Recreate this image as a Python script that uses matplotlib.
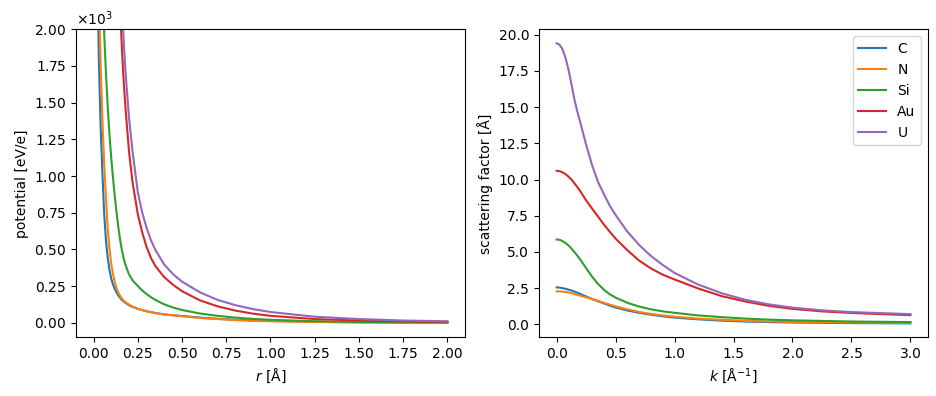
import matplotlib
matplotlib.use("Agg")
import matplotlib.pyplot as plt

symbols = ["C", "N", "Si", "Au", "U"]

# radial potential (eV/e)
r = [0.01, 0.02, 0.03, 0.04, 0.05, 0.06, 0.07, 0.08, 0.09, 0.1, 0.11, 0.12, 0.13, 0.14,
     0.15, 0.16, 0.17, 0.18, 0.2, 0.22, 0.25, 0.275, 0.3, 0.325, 0.35, 0.4, 0.45, 0.5,
     0.6, 0.7, 0.8, 0.9, 1.0, 1.25, 1.5, 1.75, 2.0]
pot_C = [5600, 2550, 1780, 1330, 1020, 740, 560, 440, 360, 300, 260, 230, 205, 185,
         170, 155, 145, 135, 120, 108, 95, 86, 78, 72, 66, 57, 51, 46,
         35, 27, 20, 15, 12, 6, 3, 2, 1]
pot_N = [6500, 3100, 2250, 1750, 1380, 1080, 850, 640, 500, 400, 330, 275, 235, 205,
         182, 165, 150, 140, 124, 110, 96, 86, 78, 71, 65, 56, 50, 44,
         33, 25, 18, 13, 10, 5, 2, 1, 0.5]
pot_Si = [15000, 6500, 4200, 3050, 2400, 1970, 1700, 1470, 1280, 1120, 985, 860, 750, 650,
          565, 495, 440, 395, 330, 290, 250, 220, 195, 173, 155, 125, 103, 87,
          63, 47, 35, 26, 20, 10, 5, 3, 2]
pot_Au = [90000, 42000, 26000, 18500, 14000, 11000, 8800, 7200, 5900, 4900, 4100, 3450, 2950, 2500,
          2150, 1870, 1650, 1470, 1170, 960, 740, 615, 515, 440, 385, 310, 258, 215,
          153, 112, 83, 62, 47, 25, 15, 9, 6]
pot_U = [110000, 52000, 32000, 22000, 16500, 13000, 10500, 8600, 7200, 6000, 5000, 4200, 3550, 3000,
         2560, 2200, 1930, 1720, 1400, 1170, 890, 750, 645, 560, 495, 395, 330, 280,
         208, 156, 120, 93, 73, 41, 25, 15, 10]

# scattering factors (Å)
k = [0.0, 0.025, 0.05, 0.075, 0.1, 0.125, 0.15, 0.175, 0.2, 0.25, 0.3, 0.35, 0.4, 0.45,
     0.5, 0.6, 0.7, 0.8, 0.9, 1.0, 1.2, 1.4, 1.6, 1.8, 2.0, 2.25, 2.5, 2.75, 3.0]
f_C = [2.55, 2.54, 2.5, 2.46, 2.4, 2.34, 2.27, 2.19, 2.1, 1.93, 1.75, 1.6, 1.45, 1.3,
       1.17, 0.96, 0.8, 0.67, 0.56, 0.47, 0.35, 0.26, 0.2, 0.16, 0.13, 0.11, 0.09, 0.08, 0.07]
f_N = [2.28, 2.275, 2.26, 2.24, 2.2, 2.16, 2.1, 2.04, 1.98, 1.87, 1.76, 1.62, 1.49, 1.37,
       1.25, 1.04, 0.86, 0.72, 0.62, 0.53, 0.4, 0.32, 0.25, 0.2, 0.17, 0.15, 0.13, 0.12, 0.11]
f_Si = [5.86, 5.84, 5.75, 5.62, 5.45, 5.24, 5.0, 4.75, 4.48, 3.88, 3.3, 2.8, 2.4, 2.08,
        1.85, 1.49, 1.23, 1.04, 0.9, 0.8, 0.62, 0.5, 0.4, 0.33, 0.28, 0.24, 0.2, 0.18, 0.16]
f_Au = [10.6, 10.57, 10.5, 10.37, 10.2, 10.0, 9.75, 9.48, 9.2, 8.56, 8.0, 7.45, 6.9, 6.4,
        5.92, 5.12, 4.4, 3.86, 3.43, 3.1, 2.48, 1.95, 1.58, 1.28, 1.07, 0.9, 0.79, 0.71, 0.64]
f_U = [19.4, 19.3, 18.98, 18.4, 17.6, 16.6, 15.55, 14.7, 13.95, 12.4, 11.0, 9.85, 9.0, 8.2,
       7.55, 6.4, 5.48, 4.72, 4.1, 3.55, 2.75, 2.15, 1.7, 1.38, 1.16, 0.97, 0.85, 0.78, 0.71]

potentials = [pot_C, pot_N, pot_Si, pot_Au, pot_U]
factors = [f_C, f_N, f_Si, f_Au, f_U]

fig, (ax1, ax2) = plt.subplots(1, 2, figsize=(9.37, 3.96), dpi=100)
fig.subplots_adjust(left=0.081, right=0.9905, bottom=0.148, top=0.926, wspace=0.19)

for sym, pot, f in zip(symbols, potentials, factors):
    ax1.plot(r, pot, label=sym)
    ax2.plot(k, f, label=sym)

ax1.set_xlim(-0.1, 2.1)
ax1.set_ylim(-100, 2000)
ax1.ticklabel_format(axis="y", style="sci", scilimits=(0, 0), useMathText=True)
ax1.set_xlabel("$r$ [Å]")
ax1.set_ylabel("potential [eV/e]")

ax2.set_xlabel("$k$ [Å$^{-1}$]")
ax2.set_ylabel("scattering factor [Å]")
ax2.legend()

fig.savefig("out.png")
